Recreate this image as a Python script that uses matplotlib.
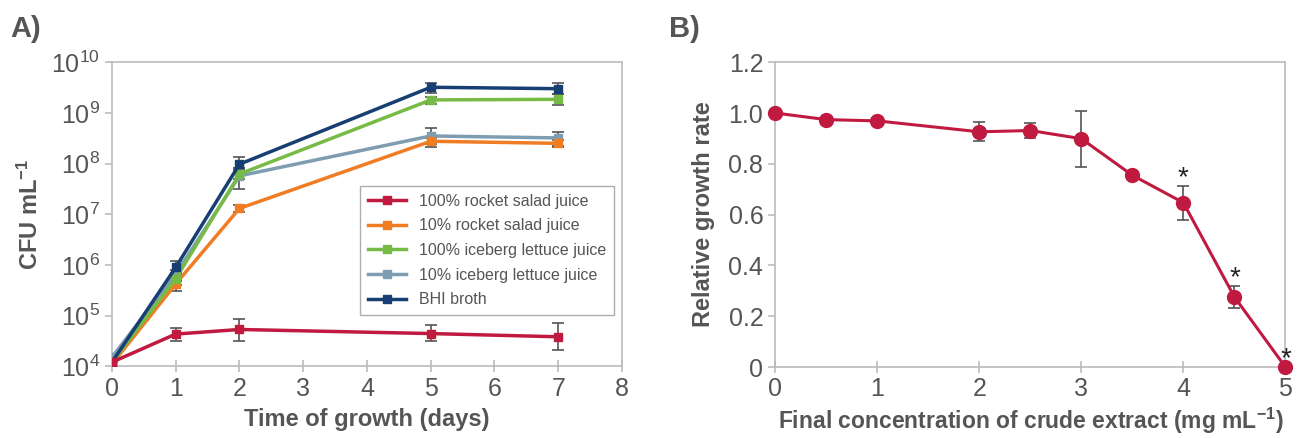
import numpy as np
import matplotlib
matplotlib.use('Agg')
import matplotlib.pyplot as plt
from matplotlib.ticker import FixedLocator, NullLocator

plt.rcParams['font.family'] = ['Liberation Sans', 'DejaVu Sans']

# Panel A: growth curves
days = [0, 1, 2, 5, 7]
series_names = ['100% rocket salad juice', '10% rocket salad juice',
                '100% iceberg lettuce juice', '10% iceberg lettuce juice', 'BHI broth']
rocket100 = [1.2e4, 4.3e4, 5.3e4, 4.4e4, 3.8e4]
rocket100_lo = [1.0e4, 3.1e4, 3.2e4, 3.1e4, 2.1e4]
rocket100_hi = [1.5e4, 5.7e4, 8.7e4, 6.4e4, 7.1e4]
rocket10 = [1.1e4, 4.2e5, 1.3e7, 2.75e8, 2.5e8]
rocket10_lo = [1.0e4, 3.1e5, 1.1e7, 2.1e8, 2.1e8]
rocket10_hi = [1.3e4, 4.9e5, 1.5e7, 3.2e8, 2.9e8]
iceberg100 = [1.2e4, 5.3e5, 6.2e7, 1.8e9, 1.85e9]
iceberg100_lo = [1.0e4, 4.0e5, 5.0e7, 1.5e9, 1.4e9]
iceberg100_hi = [1.4e4, 6.5e5, 7.5e7, 2.1e9, 2.4e9]
iceberg10 = [1.5e4, 6.6e5, 5.7e7, 3.5e8, 3.2e8]
iceberg10_lo = [1.2e4, 5.0e5, 3.2e7, 2.4e8, 2.2e8]
iceberg10_hi = [1.6e4, 8.0e5, 8.0e7, 5.1e8, 4.1e8]
bhi = [1.2e4, 8.9e5, 9.7e7, 3.2e9, 3.0e9]
bhi_lo = [1.0e4, 7.0e5, 8.0e7, 2.5e9, 2.4e9]
bhi_hi = [1.4e4, 1.2e6, 1.35e8, 3.9e9, 3.8e9]

series_vals = [rocket100, rocket10, iceberg100, iceberg10, bhi]
series_lo = [rocket100_lo, rocket10_lo, iceberg100_lo, iceberg10_lo, bhi_lo]
series_hi = [rocket100_hi, rocket10_hi, iceberg100_hi, iceberg10_hi, bhi_hi]
colors = ['#C01A40', '#F07C24', '#76BB45', '#7F9DB1', '#173F73']

# Panel B: relative growth rate
conc = [0, 0.5, 1, 2, 2.5, 3, 3.5, 4, 4.5, 5]
rate = [1.0, 0.974, 0.969, 0.926, 0.931, 0.899, 0.755, 0.647, 0.276, 0.0]
rate_err = [0, 0, 0, 0.038, 0.03, 0.11, 0.008, 0.067, 0.043, 0]
signif = [4, 4.5, 5]

grey = '#555555'
spine_c = '#BBBBBB'

fig = plt.figure(figsize=(13.05, 4.38), dpi=100)
axA = fig.add_axes([0.0858, 0.164, 0.3908, 0.694])
axB = fig.add_axes([0.594, 0.162, 0.391, 0.696])

for ax in (axA, axB):
    for s in ax.spines.values():
        s.set_color(spine_c)
        s.set_linewidth(1.2)
    ax.tick_params(colors=spine_c, labelcolor=grey, labelsize=18, length=5, width=1.2)

# --- A ---
order = [3, 1, 2, 4, 0]
for i in order:
    v = np.array(series_vals[i])
    lo = v - np.array(series_lo[i])
    hi = np.array(series_hi[i]) - v
    axA.errorbar(days, v, yerr=[lo, hi], fmt='none', ecolor=grey, elinewidth=1.2,
                 capsize=4, capthick=1.2, zorder=2)
    axA.plot(days, v, color=colors[i], lw=2.5, marker='s', ms=6, zorder=3)

handles = [plt.Line2D([], [], color=c, lw=2.5, marker='s', ms=6) for c in colors]
leg = axA.legend(handles, series_names, loc='lower right', bbox_to_anchor=(0.985, 0.168),
                 borderaxespad=0, frameon=True, fancybox=False, handlelength=2.4,
                 labelspacing=0.6, borderpad=0.5, prop={'size': 11.5})
leg.get_frame().set_edgecolor('#999999')
leg.get_frame().set_linewidth(1.0)
for t in leg.get_texts():
    t.set_color(grey)

axA.set_yscale('log')
axA.set_ylim(1e4, 1e10)
axA.set_xlim(0, 8)
axA.set_xticks(range(0, 9))
axA.yaxis.set_major_locator(FixedLocator([10.0 ** k for k in range(4, 11)]))
axA.yaxis.set_minor_locator(NullLocator())
axA.set_yticklabels([r'$\mathregular{10^{%d}}$' % k for k in range(4, 11)])
axA.tick_params(axis='x', direction='inout', length=8)
axA.tick_params(axis='y', direction='out', length=5)
axA.set_xlabel('Time of growth (days)', fontsize=17, fontweight='bold', color=grey, labelpad=5)
axA.set_ylabel(r'CFU mL$\mathregular{^{-1}}$', fontsize=17, fontweight='bold', color=grey,
               labelpad=6)
fig.text(0.008, 0.915, 'A)', fontsize=21, fontweight='bold', color=grey)

# --- B ---
axB.errorbar(conc, rate, yerr=rate_err, fmt='none', ecolor=grey, elinewidth=1.2,
             capsize=4, capthick=1.2, zorder=2)
axB.plot(conc, rate, color='#C01A40', lw=2.2, marker='o', ms=10, zorder=3, clip_on=False)
for x in signif:
    y = rate[conc.index(x)] + rate_err[conc.index(x)]
    axB.annotate('*', (x, y), xytext=(0, -4), textcoords='offset points', ha='center',
                 va='bottom', fontsize=20, color='#222222', annotation_clip=False)
axB.set_xlim(0, 5)
axB.set_ylim(0, 1.2)
axB.set_xticks(range(0, 6))
axB.set_yticks(np.arange(0, 1.21, 0.2))
axB.set_yticklabels(['0', '0.2', '0.4', '0.6', '0.8', '1.0', '1.2'])
axB.tick_params(axis='x', direction='inout', length=8)
axB.tick_params(axis='y', direction='out', length=5)
axB.set_xlabel(r'Final concentration of crude extract (mg mL$\mathregular{^{-1}}$)', fontsize=16.5,
               fontweight='bold', color=grey, labelpad=3)
axB.set_ylabel('Relative growth rate', fontsize=17, fontweight='bold', color=grey, labelpad=10)
fig.text(0.513, 0.915, 'B)', fontsize=21, fontweight='bold', color=grey)

fig.savefig('out.png', dpi=100)
